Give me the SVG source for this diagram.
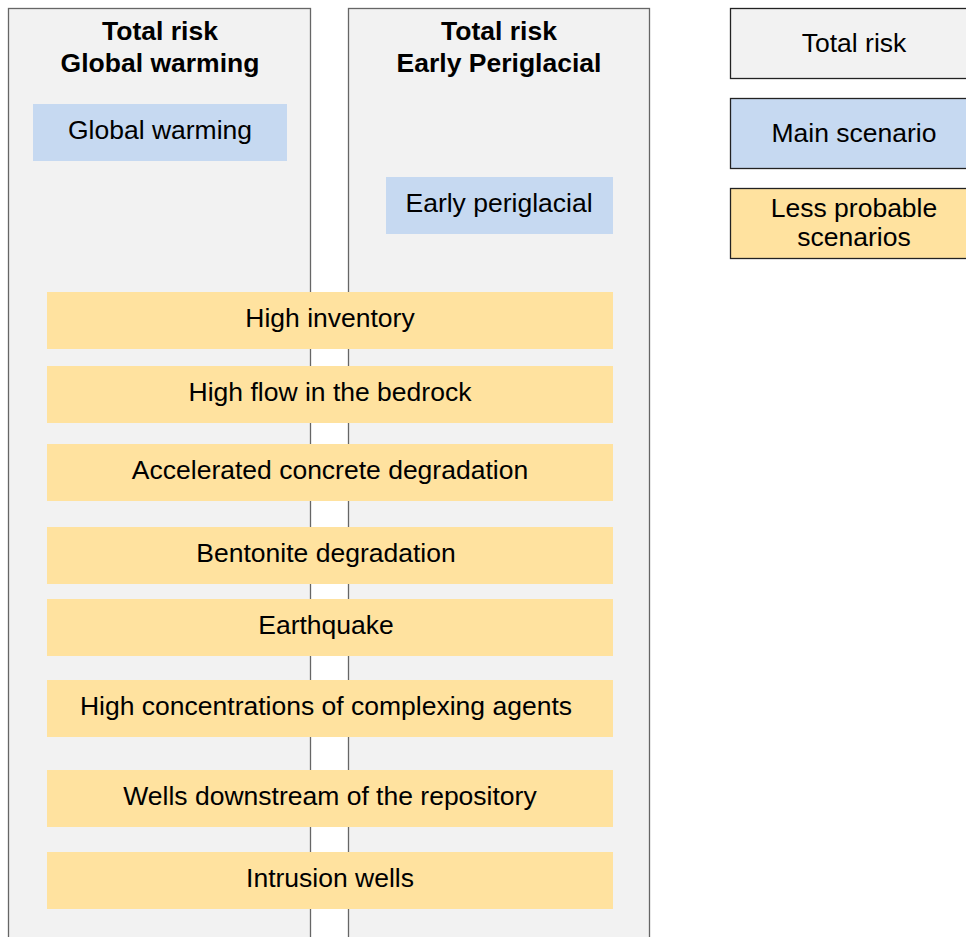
<svg xmlns="http://www.w3.org/2000/svg" width="966" height="937" viewBox="0 0 966 937">
<style>
text{font-family:"Liberation Sans",Arial,sans-serif;font-size:26.5px;fill:#000;text-anchor:middle}
.t{font-weight:bold}
.panel{fill:#f2f2f2;stroke:#666;stroke-width:1.3}
.main{fill:#c6d9f1}
.less{fill:#ffe29f}
.leg{stroke:#222;stroke-width:1.3}
</style>
<rect width="966" height="937" fill="#fff"/>
<g id="panel-gw">
<rect class="panel" x="8.5" y="8.5" width="302" height="940"/>
<text class="t" x="160" y="40">Total risk</text>
<text class="t" x="160" y="72">Global warming</text>
</g>
<g id="panel-ep">
<rect class="panel" x="348.5" y="8.5" width="301" height="940"/>
<text class="t" x="499" y="40">Total risk</text>
<text class="t" x="499" y="72">Early Periglacial</text>
</g>
<g id="global-warming">
<rect class="main" x="33" y="104" width="254" height="57"/>
<text x="160" y="139">Global warming</text>
</g>
<g id="early-periglacial">
<rect class="main" x="386" y="177" width="227" height="57"/>
<text x="499" y="212">Early periglacial</text>
</g>
<g id="high-inventory"><rect class="less" x="47" y="292" width="566" height="57"/><text x="330" y="327">High inventory</text></g>
<g id="high-flow"><rect class="less" x="47" y="366" width="566" height="57"/><text x="330" y="401">High flow in the bedrock</text></g>
<g id="concrete"><rect class="less" x="47" y="444" width="566" height="57"/><text x="330" y="479">Accelerated concrete degradation</text></g>
<g id="bentonite"><rect class="less" x="47" y="527" width="566" height="57"/><text x="326" y="562">Bentonite degradation</text></g>
<g id="earthquake"><rect class="less" x="47" y="599" width="566" height="57"/><text x="326" y="634">Earthquake</text></g>
<g id="complexing"><rect class="less" x="47" y="680" width="566" height="57"/><text x="326" y="715">High concentrations of complexing agents</text></g>
<g id="wells-downstream"><rect class="less" x="47" y="770" width="566" height="57"/><text x="330" y="805">Wells downstream of the repository</text></g>
<g id="intrusion-wells"><rect class="less" x="47" y="852" width="566" height="57"/><text x="330" y="887">Intrusion wells</text></g>
<g id="legend-total"><rect class="leg" fill="#f2f2f2" x="730.5" y="8.5" width="250" height="70"/><text x="854" y="52">Total risk</text></g>
<g id="legend-main"><rect class="leg main" x="730.5" y="98.5" width="250" height="70"/><text x="854" y="142">Main scenario</text></g>
<g id="legend-less"><rect class="leg less" x="730.5" y="188.5" width="250" height="70"/><text x="854" y="217">Less probable</text><text x="854" y="246">scenarios</text></g>
<g id="connectors"></g>
</svg>
